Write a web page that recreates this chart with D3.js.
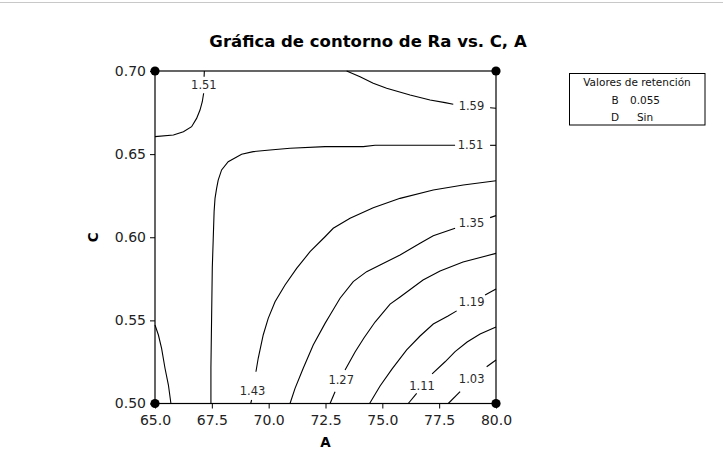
<!DOCTYPE html>
<html><head><meta charset="utf-8">
<script src="https://cdn.jsdelivr.net/npm/d3@7"></script>
<style>
body{margin:0;background:#fff;}
svg{display:block;}
text{font-family:"DejaVu Sans",Verdana,sans-serif;}
</style></head>
<body>
<svg id="chart" width="723" height="464"></svg>
<script>
// ---------- data ----------
const title = "Gráfica de contorno de Ra vs. C, A";
const xLabel = "A";
const yLabel = "C";
const xTicks = [65.0, 67.5, 70.0, 72.5, 75.0, 77.5, 80.0];
const yTicks = [0.50, 0.55, 0.60, 0.65, 0.70];
const designPoints = [[65, 0.50], [65, 0.70], [80, 0.50], [80, 0.70]];
const legendTitle = "Valores de retención";
const legendFactors = ["B", "D"];
const legendValues = ["0.055", "Sin"];

// contour lines (A, C), split where the label sits
const c151corner = [
  [[65.0,0.6605],[65.81,0.6615],[66.25,0.6635],[66.61,0.6665],[66.83,0.6715],[66.98,0.6765],[67.08,0.6815],[67.14,0.6866]],
  [[67.16,0.6966],[67.17,0.70]]
];
const c151main = [
  [[67.46,0.50],[67.46,0.5214],[67.52,0.5815],[67.56,0.5983],[67.60,0.6154],[67.64,0.6234],[67.71,0.6294],[67.78,0.6344],[67.93,0.6405],[68.22,0.6454],[68.81,0.6499],[69.32,0.6515],[70.06,0.6525],[70.94,0.6535],[72.48,0.6545],[74.16,0.6545],[74.68,0.6553],[78.20,0.6553]],
  [[79.74,0.6553],[80.0,0.6553]]
];
const c151left = [
  [[65.0,0.5472],[65.15,0.5412],[65.29,0.5332],[65.44,0.5212],[65.59,0.5111],[65.70,0.50]]
];
const c159 = [
  [[73.43,0.70],[74.02,0.6966],[74.60,0.6926],[75.19,0.6896],[76.22,0.6856],[77.10,0.6826],[77.76,0.6810],[78.12,0.6800]],
  [[79.74,0.6779],[80.0,0.6776]]
];
const c143 = [
  [[69.21,0.50],[69.25,0.5021]],
  [[69.44,0.5191],[69.54,0.5272],[69.76,0.5412],[69.98,0.5512],[70.28,0.5612],[70.72,0.5713],[71.23,0.5813],[71.82,0.5913],[72.48,0.6003],[72.84,0.6054],[73.58,0.6114],[74.60,0.6178],[75.78,0.6234],[77.24,0.6284],[78.56,0.6314],[80.0,0.6340]]
];
const c135 = [
  [[70.94,0.50],[71.16,0.5091],[71.52,0.5212],[71.96,0.5352],[72.48,0.5482],[72.70,0.5532],[73.14,0.5633],[73.72,0.5733],[74.31,0.5793],[74.90,0.5833],[75.78,0.5893],[76.66,0.5964],[77.24,0.6009],[78.20,0.6054]],
  [[79.74,0.6118],[80.0,0.6130]]
];
const c127 = [
  [[72.70,0.50],[72.92,0.5071]],
  [[73.36,0.5202],[73.80,0.5310],[74.19,0.5394],[74.68,0.5490],[75.34,0.5598],[75.78,0.5641],[76.79,0.5743],[77.54,0.5797],[78.55,0.5851],[80.0,0.5903]]
];
const c119 = [
  [[74.44,0.50],[74.90,0.5105],[75.43,0.5208],[76.07,0.5322],[76.66,0.5406],[77.24,0.5478],[77.89,0.5526],[78.27,0.5557]],
  [[79.52,0.5653],[80.0,0.5689]]
];
const c111 = [
  [[76.14,0.50],[76.51,0.5061]],
  [[77.19,0.5178],[77.76,0.5251],[78.20,0.5312],[78.73,0.5370],[79.30,0.5418],[80.0,0.5460]]
];
const c103 = [
  [[77.90,0.50],[78.42,0.5071]],
  [[79.59,0.5221],[80.0,0.5262]]
];
const contourLines = [c151corner, c151main, c151left, c159, c143, c135, c127, c119, c111, c103];

const contourLabels = [
  {text:"1.51", A:67.15, C:0.6916},
  {text:"1.51", A:78.88, C:0.6553},
  {text:"1.59", A:78.92, C:0.6789},
  {text:"1.43", A:69.29, C:0.5076},
  {text:"1.35", A:78.92, C:0.6084},
  {text:"1.27", A:73.19, C:0.5144},
  {text:"1.19", A:78.93, C:0.5612},
  {text:"1.11", A:76.75, C:0.5107},
  {text:"1.03", A:78.93, C:0.5146}
];

// ---------- drawing ----------
const svg = d3.select("#chart");
const x = d3.scaleLinear().domain([65, 80]).range([155, 496]);
const y = d3.scaleLinear().domain([0.50, 0.70]).range([403.5, 71]);

svg.append("line").attr("x1",0).attr("x2",723).attr("y1",2.5).attr("y2",2.5)
  .attr("stroke","#c8c8c8").attr("stroke-width",1);

svg.append("text").attr("x",368).attr("y",47).attr("text-anchor","middle")
  .attr("font-size","16.5px").attr("font-weight","bold").attr("fill","#000").text(title);

const line = d3.line().x(d => x(d[0])).y(d => y(d[1]));
const g = svg.append("g");
contourLines.forEach(c => c.forEach(seg => {
  g.append("path").attr("d", line(seg)).attr("fill","none")
    .attr("stroke","#000").attr("stroke-width",1.1);
}));

g.selectAll("text.cl").data(contourLabels).join("text").attr("class","cl")
  .attr("x", d => x(d.A)).attr("y", d => y(d.C)).attr("dy","0.36em")
  .attr("text-anchor","middle").attr("font-size","11.5px").attr("fill","#2a2a2a")
  .text(d => d.text);

// axes
const xAxis = d3.axisBottom(x).tickValues(xTicks).tickFormat(d3.format(".1f"))
  .tickSize(5).tickSizeOuter(0).tickPadding(7);
const yAxis = d3.axisLeft(y).tickValues(yTicks).tickFormat(d3.format(".2f"))
  .tickSize(5).tickSizeOuter(0).tickPadding(4);

const gx = svg.append("g").attr("transform", `translate(0,${y(0.50)})`).call(xAxis);
const gy = svg.append("g").attr("transform", `translate(${x(65)},0)`).call(yAxis);
[gx, gy].forEach(a => {
  a.select(".domain").remove();
  a.selectAll("text").attr("font-size","14px").attr("fill","#222")
    .style("font-family","'DejaVu Sans',Verdana,sans-serif");
  a.selectAll("line").attr("stroke","#000");
});

svg.append("rect").attr("x", x(65)).attr("y", y(0.70))
  .attr("width", x(80)-x(65)).attr("height", y(0.50)-y(0.70))
  .attr("fill","none").attr("stroke","#000").attr("stroke-width",1.2);

svg.selectAll("circle.dp").data(designPoints).join("circle").attr("class","dp")
  .attr("cx", d => x(d[0])).attr("cy", d => y(d[1])).attr("r", 4.6).attr("fill","#000");

svg.append("text").attr("x", (x(65)+x(80))/2).attr("y", 447).attr("text-anchor","middle")
  .attr("font-size","13.5px").attr("font-weight","bold").text(xLabel);
svg.append("text").attr("transform", `translate(98,${(y(0.5)+y(0.7))/2}) rotate(-90)`)
  .attr("text-anchor","middle").attr("font-size","13.5px").attr("font-weight","bold").text(yLabel);

// legend
const lg = svg.append("g");
lg.append("rect").attr("x",569.5).attr("y",73.5).attr("width",135.5).attr("height",51.5)
  .attr("fill","#fff").attr("stroke","#000").attr("stroke-width",1);
lg.append("text").attr("x",637).attr("y",85.7).attr("text-anchor","middle")
  .attr("font-size","10.5px").attr("fill","#111").text(legendTitle);
legendFactors.forEach((f,i) => {
  lg.append("text").attr("x",615).attr("y",104 + i*16.8).attr("text-anchor","middle")
    .attr("font-size","10.5px").attr("fill","#111").text(f);
  lg.append("text").attr("x",645).attr("y",104 + i*16.8).attr("text-anchor","middle")
    .attr("font-size","10.5px").attr("fill","#111").text(legendValues[i]);
});
</script>
</body></html>
